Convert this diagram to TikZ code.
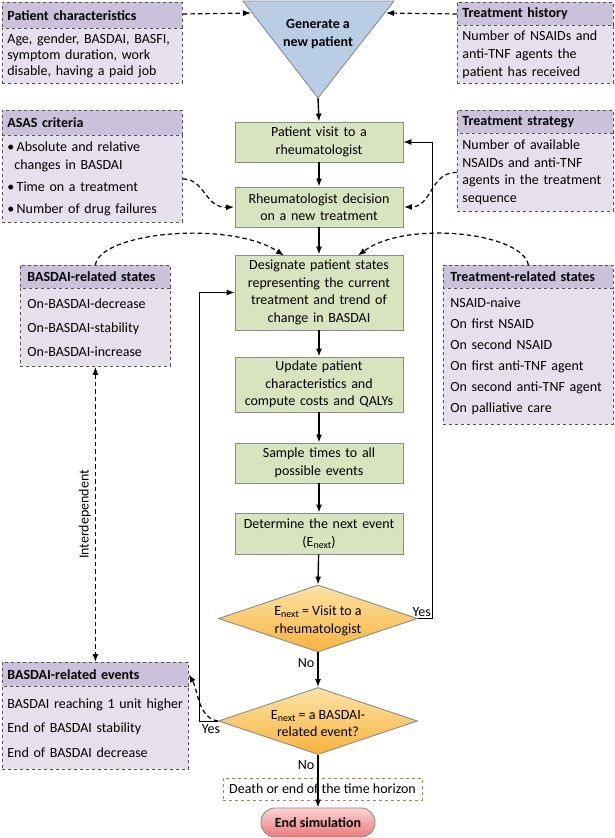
\documentclass[tikz,border=0pt]{standalone}
\usepackage{fontspec}
\setmainfont{Carlito}
\usetikzlibrary{shapes.geometric,arrows.meta}
\definecolor{procgreen}{HTML}{D7E4BD}
\definecolor{boxgray}{HTML}{8C8C8C}
\definecolor{triblue}{HTML}{B9CDE5}
\definecolor{hdrpurple}{HTML}{CCC1DA}
\definecolor{bodypurple}{HTML}{E6E0EC}
\definecolor{dgray}{HTML}{555555}
\definecolor{olive}{HTML}{A08C5A}
\definecolor{dialight}{HTML}{FDE2A6}
\definecolor{diadark}{HTML}{F6B43A}
\definecolor{endlight}{HTML}{FBD3D3}
\definecolor{enddark}{HTML}{EC7A7A}
\begin{document}
\begin{tikzpicture}[x=1pt,y=-1pt,
  every node/.style={font=\fontsize{14}{17.5}\selectfont},
  proc/.style={draw=boxgray, fill=procgreen, line width=0.9pt, minimum width=168pt, text width=164pt, align=center, inner sep=0pt},
  hdr/.style={draw=dgray, dashed, fill=hdrpurple, line width=0.8pt, font=\fontsize{14}{17}\selectfont\bfseries, align=left, inner xsep=5pt, inner ysep=0pt, anchor=north west},
  pbody/.style={draw=dgray, dashed, fill=bodypurple, line width=0.8pt, font=\fontsize{14}{17}\selectfont, align=left, inner xsep=5pt, inner ysep=0pt, anchor=north west},
  arr/.style={-{Latex[length=8pt,width=6pt]}, line width=1.4pt, black},
  larr/.style={-{Latex[length=8pt,width=6pt]}, line width=1pt, black},
  darr/.style={-{Latex[length=8pt,width=6pt]}, line width=1.2pt, dash pattern=on 4.5pt off 3pt, black},
  ddarr/.style={{Latex[length=8pt,width=6pt]}-{Latex[length=8pt,width=6pt]}, line width=1.2pt, dash pattern=on 4.5pt off 3pt, black},
  lbl/.style={inner sep=1pt},
  decision/.style={diamond, draw=boxgray, line width=0.9pt, top color=dialight, bottom color=diadark, minimum width=199pt, minimum height=67pt, inner sep=0pt},
]
\useasboundingbox (0,0) rectangle (615,838);

% ---- triangle: generate a new patient
\filldraw[fill=triblue, draw=boxgray, line width=0.9pt] (243,1) -- (394,1) -- (318,98) -- cycle;
\coordinate (apex) at (318,98);
\coordinate (triL) at (251,13);
\coordinate (triR) at (386,13);
\node[font=\fontsize{14}{17.5}\selectfont\bfseries, align=center] (gen) at (318,34) {Generate a\\new patient};

% ---- main process boxes
\node[proc, minimum height=40pt] (b1) at (319,142) {Patient visit to a\\rheumatologist};
\node[proc, minimum height=40pt] (b2) at (319,207) {Rheumatologist decision\\on a new treatment};
\node[proc, minimum height=75pt] (b3) at (319,292.5) {Designate patient states\\representing the current\\treatment and trend of\\change in BASDAI};
\node[proc, minimum height=55pt] (b4) at (319,384.5) {Update patient\\characteristics and\\compute costs and QALYs};
\node[proc, minimum height=40pt] (b5) at (319,463) {Sample times to all\\possible events};
\node[proc, minimum height=41pt] (b6) at (319,533.5) {Determine the next event\\(E\raisebox{-0.3ex}{\fontsize{10}{10}\selectfont next})};

\node[decision] (d1) at (318,618.5) {};
\node[align=center] (d1t) at (318,621) {E\raisebox{-0.3ex}{\fontsize{10}{10}\selectfont next} = Visit to a\\rheumatologist};
\node[decision] (d2) at (318,721) {};
\node[align=center] (d2t) at (318,723.5) {E\raisebox{-0.3ex}{\fontsize{10}{10}\selectfont next} = a BASDAI-\\related event?};

\node[draw=olive, dashed, line width=0.8pt, minimum width=199pt, minimum height=22pt, inner sep=0pt] (death) at (322.5,789) {Death or end of the time horizon};
\node[draw=boxgray, line width=0.9pt, rounded corners=14pt, top color=endlight, bottom color=enddark, minimum width=114pt, minimum height=29pt, inner sep=0pt, font=\fontsize{14}{17}\selectfont\bfseries] (endn) at (318,822.5) {End simulation};

% ---- left info boxes
\node[hdr, text width=170pt, minimum height=26pt] (pch) at (2,2) {Patient characteristics};
\node[pbody, text width=170pt, minimum height=55pt, font=\fontsize{14}{16}\selectfont] (pcb) at (2,28) {Age, gender, BASDAI, BASFI,\\symptom duration, work\\disable, having a paid job};

\node[hdr, text width=170pt, minimum height=25pt] (ash) at (2,110) {ASAS criteria};
\node[pbody, text width=170pt, minimum height=87pt, font=\fontsize{14}{18}\selectfont] (asb) at (2,135) {\textbullet\,Absolute and relative\\\hspace*{0.5em}changes in BASDAI\\[4pt]\textbullet\,Time on a treatment\\[4pt]\textbullet\,Number of drug failures};

\node[hdr, text width=136pt, minimum height=23pt, inner xsep=7pt] (bsh) at (20,265) {BASDAI-related states};
\node[pbody, text width=136pt, minimum height=78pt, inner xsep=7pt] (bsb) at (20,288) {On-BASDAI-decrease\\[7pt]On-BASDAI-stability\\[7pt]On-BASDAI-increase};

\node[hdr, text width=176pt, minimum height=24pt] (beh) at (2,662) {BASDAI-related events};
\node[pbody, text width=176pt, minimum height=83pt] (beb) at (2,686) {BASDAI reaching 1 unit higher\\[7.5pt]End of BASDAI stability\\[7.5pt]End of BASDAI decrease};

% ---- right info boxes
\node[hdr, text width=146pt, minimum height=23pt] (thh) at (457,2) {Treatment history};
\node[pbody, text width=146pt, minimum height=58pt, font=\fontsize{14}{18}\selectfont] (thb) at (457,25) {Number of NSAIDs and\\anti-TNF agents the\\patient has received};

\node[hdr, text width=146pt, minimum height=23pt] (tsh) at (457,110) {Treatment strategy};
\node[pbody, text width=146pt, minimum height=78pt, font=\fontsize{14}{17.7}\selectfont] (tsb) at (457,133) {Number of available\\NSAIDs and anti-TNF\\agents in the treatment\\sequence};

\node[hdr, text width=156pt, minimum height=23pt, inner xsep=7pt] (trh) at (443,265) {Treatment-related states};
\node[pbody, text width=156pt, minimum height=136pt, inner xsep=7pt] (trb) at (443,288) {NSAID-naive\\[4pt]On first NSAID\\[4pt]On second NSAID\\[4pt]On first anti-TNF agent\\[4pt]On second anti-TNF agent\\[4pt]On palliative care};

% ---- solid flow
\draw[arr] (apex) -- (b1.north);
\draw[arr] (b1) -- (b2);
\draw[arr] (b2) -- (b3);
\draw[arr] (b3) -- (b4);
\draw[arr] (b4) -- (b5);
\draw[arr] (b5) -- (b6);
\draw[arr] (b6) -- (d1.north);
\draw[arr] (d1.south) -- node[lbl, pos=0.3, left=2pt] (no1) {No} (d2.north);
\draw[arr] (d2.south) -- node[lbl, pos=0.2, left=2pt] (no2) {No} (endn.north);
\draw[larr] (d1.east) -- ++(15,0) coordinate (yr) |- (b1.east);
\node[lbl, anchor=south east] (yes1) at (432,618) {Yes};
\draw[larr] (d2.west) -- ++(-19,0) coordinate (yl) |- (b3.west);
\node[lbl, anchor=north] (yes2) at (211,723) {Yes};

% ---- dashed info links
\draw[darr] (pch.east |- 0,14) -- (triL);
\draw[darr] (thh.west |- 0,14) -- (triR);
\draw[darr] (asb.east) .. controls (205,179) and (205,208) .. ([xshift=-0.5pt]b2.west);
\draw[darr] (tsb.west) .. controls (430,172) and (432,207) .. ([xshift=0.5pt]b2.east);
\draw[darr] (bsh.north) .. controls (100,232) and (230,220) .. ([xshift=-35pt,yshift=-1pt]b3.north);
\draw[darr] (trh.north) .. controls (522,232) and (405,220) .. ([xshift=39pt,yshift=-1pt]b3.north);
\draw[darr] (d2.west) .. controls (198,718) and (198,690) .. (beh.east);
\draw[ddarr] (bsb.south) -- node[lbl, rotate=90, above=3pt] (interd) {Interdependent} (beh.north);
\end{tikzpicture}
\end{document}
